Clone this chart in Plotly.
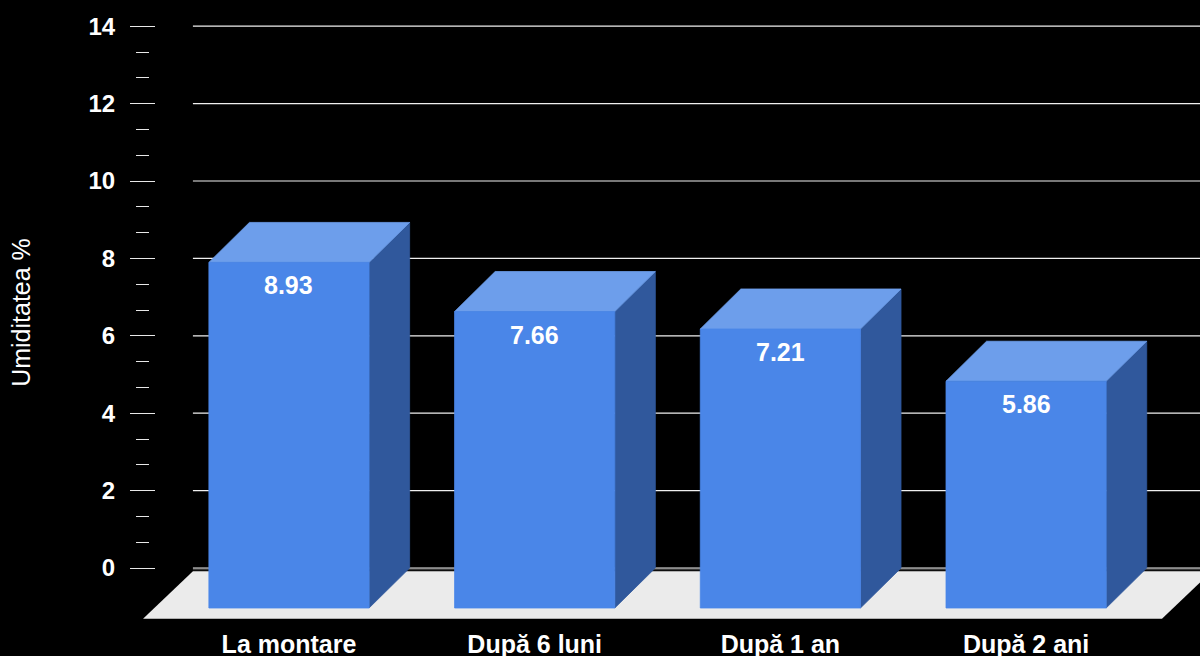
import plotly.graph_objects as go

# ---------------- data ----------------
categories = ["La montare", "După 6 luni", "După 1 an", "După 2 ani"]
values = [8.93, 7.66, 7.21, 5.86]
y_ticks = [0, 2, 4, 6, 8, 10, 12, 14]
y_title = "Umiditatea %"

# ---------------- style ----------------
BG = "#000000"
FRONT = "#4a86e8"
TOP = "#6d9eeb"
SIDE = "#30589c"
FLOOR = "#ebebeb"
GRID = "#f0f0f0"
FONT = "Liberation Sans"

HALF_W = 0.326      # half bar width (category units)
DX = 0.165          # 3D depth, x (category units)
DY = 1.034          # 3D depth, y (value units)
FLOOR_BACK_L = -0.391
FLOOR_FRONT_L = -0.594
FLOOR_FRONT_R = 3.553
FLOOR_TOP = -0.085
FLOOR_BOTTOM = -1.31

X_RANGE = [-1.1762, 3.7078]
Y_RANGE = [-1.473, 14.677]

xs = list(range(len(categories)))

fig = go.Figure()

# floor
fdx = FLOOR_BACK_L - FLOOR_FRONT_L
fig.add_trace(go.Scatter(
    x=[FLOOR_FRONT_L, FLOOR_FRONT_R, FLOOR_FRONT_R + fdx, FLOOR_BACK_L, FLOOR_FRONT_L],
    y=[FLOOR_BOTTOM, FLOOR_BOTTOM, FLOOR_TOP, FLOOR_TOP, FLOOR_BOTTOM],
    fill="toself", fillcolor=FLOOR, line=dict(width=0), mode="lines",
    hoverinfo="skip", showlegend=False))

# back edge of floor
fig.add_trace(go.Scatter(
    x=[FLOOR_BACK_L, X_RANGE[1]], y=[-0.03, -0.03], mode="lines",
    line=dict(color="#3a3a3a", width=2), hoverinfo="skip", showlegend=False))

# gridlines on the back wall
gx, gy = [], []
for t in y_ticks:
    gx += [FLOOR_BACK_L, X_RANGE[1], None]
    gy += [t, t, None]
fig.add_trace(go.Scatter(x=gx, y=gy, mode="lines",
                         line=dict(color=GRID, width=1.2),
                         hoverinfo="skip", showlegend=False))

# 3D bars
side_x, side_y, top_x, top_y, front_x, front_y = [], [], [], [], [], []
for i, v in zip(xs, values):
    l, r = i - HALF_W, i + HALF_W
    front_x += [l, r, r, l, l, None]
    front_y += [-DY, -DY, v - DY, v - DY, -DY, None]
    top_x += [l, r, r + DX, l + DX, l, None]
    top_y += [v - DY, v - DY, v, v, v - DY, None]
    side_x += [r, r + DX, r + DX, r, r, None]
    side_y += [-DY, 0, v, v - DY, -DY, None]

for px, py, col in [(side_x, side_y, SIDE), (top_x, top_y, TOP), (front_x, front_y, FRONT)]:
    fig.add_trace(go.Scatter(x=px, y=py, fill="toself", fillcolor=col,
                             line=dict(width=0.8, color=col), mode="lines",
                             hoverinfo="skip", showlegend=False))

# dummy trace to activate the overlaid axis
fig.add_trace(go.Scatter(x=[None], y=[None], yaxis="y2", showlegend=False, hoverinfo="skip"))

# value labels
for i, v in zip(xs, values):
    fig.add_annotation(x=i, y=v - DY, text=f"{v:.2f}", showarrow=False,
                       yanchor="middle", yshift=-23,
                       font=dict(family=FONT, size=25, color="white", weight="bold"))

# minor ticks between majors
minor_vals = []
for a, b in zip(y_ticks[:-1], y_ticks[1:]):
    minor_vals += [a + (b - a) / 3, a + 2 * (b - a) / 3]

common_y = dict(range=Y_RANGE, showgrid=False, zeroline=False, showline=False,
                anchor="free", automargin=False,
                tickmode="array", tickvals=y_ticks,
                tickcolor="#e8e8e8", tickwidth=1.3)

fig.update_layout(
    width=1200, height=656,
    paper_bgcolor=BG, plot_bgcolor=BG,
    margin=dict(l=0, r=0, t=0, b=31),
    xaxis=dict(range=X_RANGE, domain=[0, 1], showgrid=False, zeroline=False,
               showline=False, tickmode="array", tickvals=xs, ticktext=categories,
               ticks="", automargin=False, ticklabelstandoff=2,
               tickfont=dict(family=FONT, size=25, color="white", weight="bold")),
    yaxis=dict(**common_y, position=142 / 1200, ticks="outside", ticklen=12,
               ticktext=[str(t) for t in y_ticks],
               tickfont=dict(family=FONT, size=24, color="white", weight="bold"),
               ticklabelstandoff=10,
               minor=dict(tickmode="array", tickvals=minor_vals, ticks="outside",
                          ticklen=6, tickcolor="#e8e8e8", tickwidth=1.3),
               title=dict(text=y_title, standoff=49,
                          font=dict(family=FONT, size=25, color="white"))),
    yaxis2=dict(**common_y, position=141 / 1200, overlaying="y", ticks="inside",
                ticklen=13, showticklabels=False,
                minor=dict(tickmode="array", tickvals=minor_vals, ticks="inside",
                           ticklen=7, tickcolor="#e8e8e8", tickwidth=1.3)),
)

fig.write_html("out.html", config={"displayModeBar": False},
               post_script="document.body.style.margin='0';"
                           "document.body.style.background='black';")
